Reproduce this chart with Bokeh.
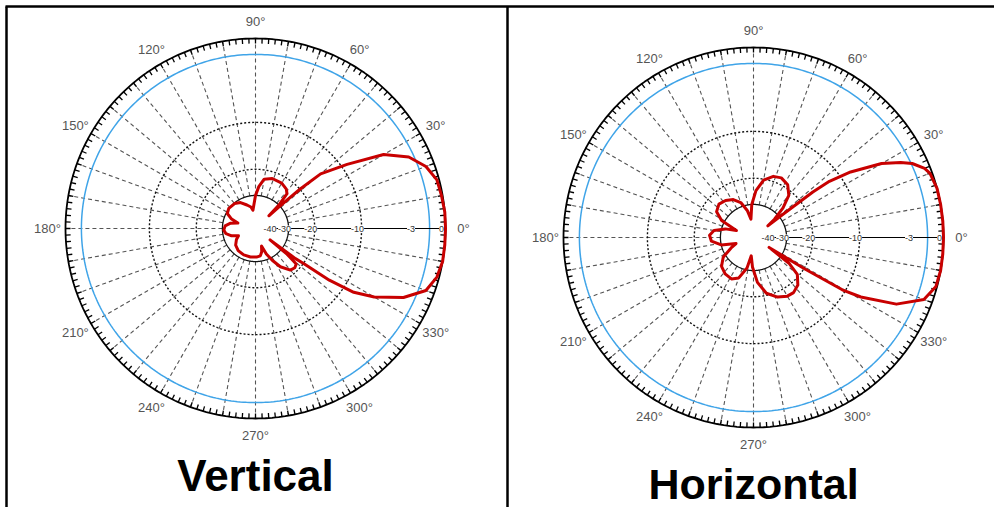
import numpy as np
from bokeh.plotting import figure
from bokeh.models import Range1d
from bokeh.embed import file_html
from bokeh.resources import INLINE
from bokeh.core.properties import value

# ---------------- data (angle in degrees, level in dB) ----------------
VERT_ANGLES = [0, 5, 10, 15, 20, 25, 30, 35, 40, 41.5, 42.5, 43.5,
               45, 47.8, 52, 60, 71.5, 80, 85.5, 90, 95, 98,
               102, 110, 120, 130, 143, 152, 158, 163,
               168, 175, 183, 190, 197, 203,
               210, 220, 232, 246, 260, 272, 280, 285, 289,
               293, 297.8, 303, 310, 315, 319, 321, 322,
               323, 324, 325, 327, 330, 335, 340, 345, 350, 355]
VERT_DB = [0.0, 0.0, -0.1, -0.2, -0.8, -2.0, -4.3, -9.1, -13.8, -20.0, -30.0, -40.0,
           -30.0, -24.0, -22.9, -22.1, -22.0, -22.9, -25.9, -30.0, -37.0, -40.0,
           -37.0, -34.8, -31.7, -30.3, -29.8, -30.6, -34.0, -40.0,
           -34.5, -31.4, -30.7, -31.7, -34.8, -40.0,
           -37.0, -34.2, -32.8, -32.3, -32.3, -32.5, -33.0, -35.5, -40.0,
           -33.0, -28.6, -24.5, -21.5, -21.1, -21.6, -26.7, -40.0,
           -22.9, -19.8, -12.8, -8.3, -5.6, -2.6, -0.8, -0.2, 0.0, 0.0]

HORZ_ANGLES = [0, 5, 10, 15, 20, 22, 25, 27, 30, 34, 36.5, 37.5, 38.2, 39,
               41, 45, 50, 57, 65, 72, 80, 87, 93, 98,
               103, 110, 118, 127, 136, 145, 152, 158,
               163, 170, 177, 185, 193, 199,
               205, 213, 222, 232, 242, 250, 258, 263,
               268, 275, 283, 292, 300, 306, 313, 320, 324, 327.5,
               328.5, 329.5, 331, 335, 340, 345, 350, 355]
HORZ_DB = [0.0, 0.0, 0.0, 0.0, -0.2, -0.5, -1.4, -2.4, -4.3, -8.3, -12.0, -16.0, -28.0, -40.0,
           -33.0, -26.0, -21.3, -19.0, -18.2, -18.6, -20.3, -24.0, -30.0, -40.0,
           -33.0, -28.0, -25.5, -24.2, -23.6, -24.7, -28.5, -40.0,
           -32.0, -26.7, -25.1, -25.8, -30.0, -40.0,
           -35.0, -28.5, -25.5, -24.3, -24.0, -25.5, -31.0, -40.0,
           -32.0, -24.7, -20.6, -18.6, -17.7, -17.6, -18.4, -20.6, -25.0, -40.0,
           -20.0, -10.5, -7.5, -3.2, -0.8, -0.1, 0.0, 0.0]

TITLES = ["Vertical", "Horizontal"]
PATTERNS = [(VERT_ANGLES, VERT_DB), (HORZ_ANGLES, HORZ_DB)]

GRID_DB = [-20, -10]          # dotted circles
INNER_DB = -30                # solid inner circle
REF_RING_DB = -1.5            # blue reference circle
SCALE_LABEL_DB = [-40, -30, -20, -10, -3, 0]
SCALE_LABELS = ["-40", "-30", "-20", "-10", "-3", "0"]
DEGREE_TICKS = list(range(0, 360, 30))
DEGREE_LABELS = [f"{d}°" for d in DEGREE_TICKS]
SPOKE_DEG = list(range(10, 360, 10))
MINOR_TICK_DEG = list(range(0, 360, 2))

# ---------------- layout ----------------
W, H = 994, 507
R0 = 190.0                          # radius of 0 dB (outer ring)
K = 2.0 / np.log(1 / 0.89)          # ARRL log-periodic scale
CENTERS = [(255, H - 228), (753, H - 237)]
TITLE_BASE = [H - 475, H - 483]
TITLE_SIZE = ["44px", "43px"]
FONT = value("Liberation Sans")


def rad(db):
    return R0 * np.exp(np.asarray(db, dtype=float) / K)


p = figure(width=W, height=H, x_range=Range1d(0, W), y_range=Range1d(0, H),
           output_backend="svg", toolbar_location=None,
           x_axis_location=None, y_axis_location=None, min_border=0)
p.grid.visible = False
p.outline_line_color = None
p.background_fill_color = "white"
p.border_fill_color = "white"

# table borders
p.line([5, W], [H - 6, H - 6], line_color="black", line_width=2.5)
p.line([6, 6], [0, H - 6], line_color="black", line_width=2.5)
p.line([507, 507], [0, H - 6], line_color="black", line_width=2.5)

theta_c = np.linspace(0, 2 * np.pi, 361)

for (cx, cy), title, tb, ts, (angs, pat) in zip(CENTERS, TITLES, TITLE_BASE, TITLE_SIZE, PATTERNS):
    r_in = rad(INNER_DB)
    r_ring = R0
    # spokes
    xs, ys = [], []
    for a in SPOKE_DEG:
        t = np.deg2rad(a)
        xs.append([cx + r_in * np.cos(t), cx + r_ring * np.cos(t)])
        ys.append([cy + r_in * np.sin(t), cy + r_ring * np.sin(t)])
    p.multi_line(xs, ys, line_color="#555555", line_width=1.1, line_dash="4 3")
    # dotted circles
    for db in GRID_DB:
        rr = rad(db)
        p.line(cx + rr * np.cos(theta_c), cy + rr * np.sin(theta_c),
               line_color="#111111", line_width=1.4, line_dash="2 2")
    # inner solid circle
    p.line(cx + r_in * np.cos(theta_c), cy + r_in * np.sin(theta_c),
           line_color="#111111", line_width=1.3)
    # blue reference ring
    rb = rad(REF_RING_DB)
    p.line(cx + rb * np.cos(theta_c), cy + rb * np.sin(theta_c),
           line_color="#3fa4e8", line_width=1.5)
    # outer ring + ticks
    p.line(cx + r_ring * np.cos(theta_c), cy + r_ring * np.sin(theta_c),
           line_color="black", line_width=1.8)
    txs, tys = [], []
    for a in MINOR_TICK_DEG:
        t = np.deg2rad(a)
        txs.append([cx + (r_ring - 5) * np.cos(t), cx + r_ring * np.cos(t)])
        tys.append([cy + (r_ring - 5) * np.sin(t), cy + r_ring * np.sin(t)])
    p.multi_line(txs, tys, line_color="black", line_width=1.3)
    # 0 degree solid axis
    p.line([cx + rad(-40), cx + r_ring], [cy, cy], line_color="black", line_width=1.2)
    # pattern
    ang = np.deg2rad(list(angs) + [angs[0]])
    rr = rad(list(pat) + [pat[0]])
    p.line(cx + rr * np.cos(ang), cy + rr * np.sin(ang),
           line_color="#c80000", line_width=3, line_join="round")
    # scale labels
    p.text(x=[cx + rad(d) - 4 for d in SCALE_LABEL_DB], y=[cy] * len(SCALE_LABEL_DB),
           text=SCALE_LABELS, text_font=FONT, text_font_size="9px",
           text_color="#333333", text_align="center", text_baseline="middle",
           background_fill_color="white")
    # degree labels
    tl = np.deg2rad(DEGREE_TICKS)
    p.text(x=list(cx + 208 * np.cos(tl)), y=list(cy + 207 * np.sin(tl)),
           text=DEGREE_LABELS, text_font=FONT, text_font_size="13px",
           text_color="#555555", text_align="center", text_baseline="middle")
    # title
    p.text(x=[cx], y=[tb], text=[title], text_font=FONT, text_font_size=ts,
           text_font_style="bold", text_color="black", text_align="center",
           text_baseline="alphabetic")

open("out.html", "w").write(file_html(p, INLINE))
